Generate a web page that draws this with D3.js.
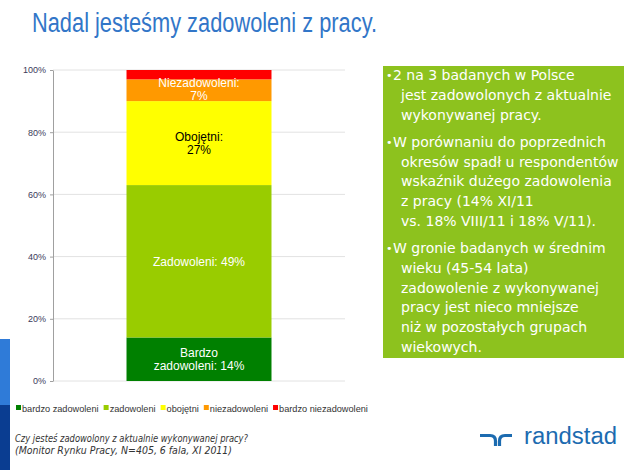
<!DOCTYPE html>
<html><head><meta charset="utf-8">
<script src="https://cdn.jsdelivr.net/npm/d3@7/dist/d3.min.js"></script>
<style>body{margin:0;background:#fff;}svg{display:block;}</style>
</head><body>
<svg id="c" width="640" height="472"></svg>
<script>
const title = "Nadal jesteśmy zadowoleni z pracy.";
const categories = ["bardzo zadowoleni", "zadowoleni", "obojętni", "niezadowoleni", "bardzo niezadowoleni"];
const values = [14, 49, 27, 7, 3];
const colors = ["#008000", "#99CC00", "#FFFF00", "#FF9900", "#FF0000"];
const barLabels = [["Bardzo", "zadowoleni: 14%"], ["Zadowoleni: 49%"], ["Obojętni:", "27%"], ["Niezadowoleni:", "7%"], []];
const labelColors = ["#fff", "#fff", "#000", "#fff", "#fff"];
const yTicks = [0, 20, 40, 60, 80, 100];
const bullets = [
  ["2 na 3 badanych w Polsce", "jest zadowolonych z aktualnie", "wykonywanej pracy."],
  ["W porównaniu do poprzednich", "okresów spadł u respondentów", "wskaźnik dużego zadowolenia", "z pracy (14% XI/11", "vs. 18% VIII/11 i 18% V/11)."],
  ["W gronie badanych w średnim", "wieku (45-54 lata)", "zadowolenie z wykonywanej", "pracy jest nieco mniejsze", "niż w pozostałych grupach", "wiekowych."]
];
const caption = ["Czy jesteś zadowolony z aktualnie wykonywanej pracy?", "(Monitor Rynku Pracy, N=405, 6 fala, XI 2011)"];

const svg = d3.select("#c");

// left decorative strip
svg.append("rect").attr("x", 0).attr("y", 339).attr("width", 10).attr("height", 66).attr("fill", "#2F7BD8");
svg.append("rect").attr("x", 0).attr("y", 405).attr("width", 10).attr("height", 65).attr("fill", "#0A3D91");

// title
svg.append("text").attr("x", 32).attr("y", 32).text(title)
  .attr("font-family", "'Liberation Sans Narrow','Liberation Sans',Arial,sans-serif")
  .attr("font-size", 27).attr("fill", "#3276C8")
  .attr("textLength", 345).attr("lengthAdjust", "spacingAndGlyphs");

// chart
const x0 = 53, x1 = 345, yTop = 70, yBot = 381;
const y = d3.scaleLinear().domain([0, 100]).range([yBot, yTop]);
const xb = d3.scaleBand().domain(["all"]).range([x0, x1]).paddingInner(0).paddingOuter(0.507);

const g = svg.append("g");
g.selectAll("line.grid").data(yTicks).join("line")
  .attr("x1", x0).attr("x2", x1).attr("y1", d => y(d)).attr("y2", d => y(d))
  .attr("stroke", "#e2e2e2").attr("stroke-width", 1);

const axis = d3.axisLeft(y).tickValues(yTicks).tickFormat(d => d + "%").tickSize(3).tickSizeOuter(0).tickPadding(4);
const ag = g.append("g").attr("transform", `translate(${x0},0)`).call(axis);
ag.select(".domain").attr("stroke", "#a0a0a0");
ag.selectAll(".tick line").attr("stroke", "#a0a0a0");
ag.selectAll(".tick text").attr("font-family", "'Liberation Sans',Arial,sans-serif").attr("font-size", 9).attr("fill", "#3a3a5a");

let cum = 0;
const stack = values.map((v, i) => { const s = {i, y0: cum, y1: cum + v}; cum += v; return s; });
const bx = xb("all"), bw = xb.bandwidth();
g.selectAll("rect.seg").data(stack).join("rect")
  .attr("x", bx).attr("width", bw)
  .attr("y", d => y(d.y1)).attr("height", d => y(d.y0) - y(d.y1))
  .attr("fill", d => colors[d.i]);

const lineH = 12.5;
stack.forEach(d => {
  const lines = barLabels[d.i];
  if (!lines.length) return;
  let cy = (y(d.y0) + y(d.y1)) / 2;
  if (d.i === 3) cy = y(d.y1) + 10;
  const start = cy - (lines.length - 1) * lineH / 2;
  lines.forEach((t, k) => {
    g.append("text").attr("x", bx + bw / 2).attr("y", start + k * lineH + 4.3)
      .attr("text-anchor", "middle").text(t)
      .attr("font-family", "'Liberation Sans',Arial,sans-serif").attr("font-size", 12)
      .attr("fill", labelColors[d.i]);
  });
});

// legend
const lg = svg.append("g").attr("transform", "translate(16,408)");
let lx = 0;
categories.forEach((c, i) => {
  lg.append("rect").attr("x", lx).attr("y", -3).attr("width", 5).attr("height", 5).attr("fill", colors[i]);
  const t = lg.append("text").attr("x", lx + 6).attr("y", 3.5).text(c)
    .attr("font-family", "'Liberation Sans',Arial,sans-serif").attr("font-size", 9.2).attr("fill", "#333");
  lx += 6 + t.node().getComputedTextLength() + 5;
});

// text box
const boxX = 383, boxY = 66, boxW = 241, boxH = 292;
svg.append("rect").attr("x", boxX).attr("y", boxY).attr("width", boxW).attr("height", boxH).attr("fill", "#8DC21E");
let by = 80;
const lh = 19.8, pg = 7.3;
bullets.forEach((p) => {
  svg.append("text").attr("x", 386).attr("y", by - 1).text("•")
    .attr("font-family", "'DejaVu Sans',Verdana,sans-serif").attr("font-size", 11).attr("fill", "#fff");
  p.forEach((t, k) => {
    svg.append("text").attr("x", k === 0 ? 393 : 401).attr("y", by).text(t)
      .attr("font-family", "'DejaVu Sans',Verdana,sans-serif").attr("font-size", 14).attr("fill", "#fff");
    if (k < p.length - 1) by += lh;
  });
  by += lh + pg;
});

// caption
caption.forEach((t, k) => {
  svg.append("text").attr("x", 15).attr("y", 442 + k * 11.5).text(t)
    .attr("font-family", "'DejaVu Sans',Verdana,sans-serif").attr("font-style", "italic")
    .attr("font-size", 10.5).attr("fill", "#333")
    .attr("textLength", k === 0 ? 233 : 217).attr("lengthAdjust", "spacingAndGlyphs");
});

// logo
const logo = svg.append("g");
logo.append("path").attr("d", "M480,435.5 H490 Q495.5,435.5 495.5,441 V446")
  .attr("fill", "none").attr("stroke", "#1C6BB0").attr("stroke-width", 3.2);
logo.append("path").attr("d", "M499.5,446 V441 Q499.5,435.5 505,435.5 H512")
  .attr("fill", "none").attr("stroke", "#1C6BB0").attr("stroke-width", 3.2);
logo.append("text").attr("x", 524).attr("y", 444).text("randstad")
  .attr("font-family", "'Liberation Sans',Arial,sans-serif").attr("font-size", 23).attr("fill", "#1C6BB0")
  .attr("textLength", 93).attr("lengthAdjust", "spacingAndGlyphs");
</script>
</body></html>
